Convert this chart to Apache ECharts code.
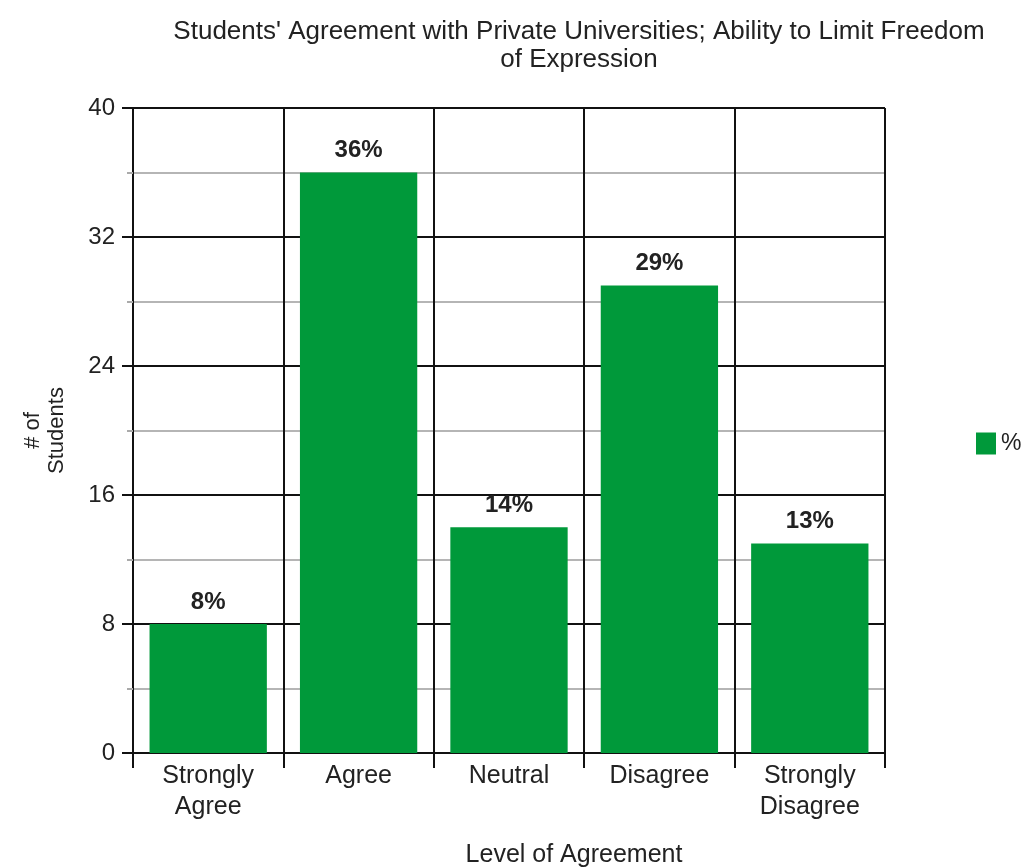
<!DOCTYPE html>
<html>
<head>
<meta charset="utf-8">
<script src="https://cdn.jsdelivr.net/npm/echarts@6/dist/echarts.min.js"></script>
<style>html,body{margin:0;padding:0;background:#fff;}#c{width:1036px;height:867px;}</style>
</head>
<body>
<div id="c"></div>
<script>
const categories = ['Strongly\nAgree', 'Agree', 'Neutral', 'Disagree', 'Strongly\nDisagree'];
const values = [8, 36, 14, 29, 13];
const seriesName = '%';
const titleText = "Students' Agreement with Private Universities; Ability to Limit Freedom\nof Expression";
const xName = 'Level of Agreement';
const yName = '# of\nStudents';

const chart = echarts.init(document.getElementById('c'));
const font = 'Liberation Sans, Arial, sans-serif';
chart.setOption({
  animation: false,
  backgroundColor: '#fff',
  title: {
    text: titleText,
    left: 574, top: 13, textAlign: 'center',
    textStyle: { fontFamily: font, fontSize: 26, fontWeight: 'normal', color: '#222', lineHeight: 28, align: 'center' }
  },
  legend: {
    data: [seriesName],
    left: 971, top: 427,
    itemWidth: 20, itemHeight: 22, itemGap: 10,
    textStyle: { fontFamily: font, fontSize: 23, color: '#222' },
    icon: 'rect'
  },
  grid: { left: 133, right: 151, top: 108, bottom: 114, containLabel: false, outerBoundsMode: 'none' },
  xAxis: {
    type: 'category',
    data: categories,
    name: xName,
    nameLocation: 'middle',
    nameGap: 90,
    nameTextStyle: { fontFamily: font, fontSize: 25, color: '#222', padding: [0, 0, 0, 130] },
    axisLine: { show: true, lineStyle: { color: '#111', width: 2 } },
    axisTick: { show: true, length: 15, lineStyle: { color: '#111', width: 2 } },
    axisLabel: { fontFamily: font, fontSize: 25, color: '#222', lineHeight: 31, margin: 8 },
    splitLine: { show: true, lineStyle: { color: '#111', width: 2 } }
  },
  yAxis: {
    type: 'value',
    min: 0, max: 40, interval: 8,
    name: yName,
    nameLocation: 'middle',
    nameGap: 64,
    nameRotate: 90,
    nameTextStyle: { fontFamily: font, fontSize: 22, color: '#222', lineHeight: 24 },
    axisLine: { show: true, lineStyle: { color: '#111', width: 2 } },
    axisTick: { show: true, length: 11, lineStyle: { color: '#111', width: 2 } },
    axisLabel: { fontFamily: font, fontSize: 24, color: '#222', margin: 18 },
    splitLine: { show: true, lineStyle: { color: '#111', width: 2 } },
    minorTick: { show: true, splitNumber: 2, length: 6, lineStyle: { color: '#aaa', width: 2 } },
    minorSplitLine: { show: true, lineStyle: { color: '#b5b5b5', width: 2 } }
  },
  series: [{
    name: seriesName,
    type: 'bar',
    data: values,
    barCategoryGap: '22%',
    itemStyle: { color: '#00993a' },
    label: {
      show: true, position: 'top', distance: 10,
      formatter: p => p.value + '%',
      fontFamily: font, fontSize: 24, fontWeight: 'bold', color: '#222'
    }
  }]
});
</script>
</body>
</html>
